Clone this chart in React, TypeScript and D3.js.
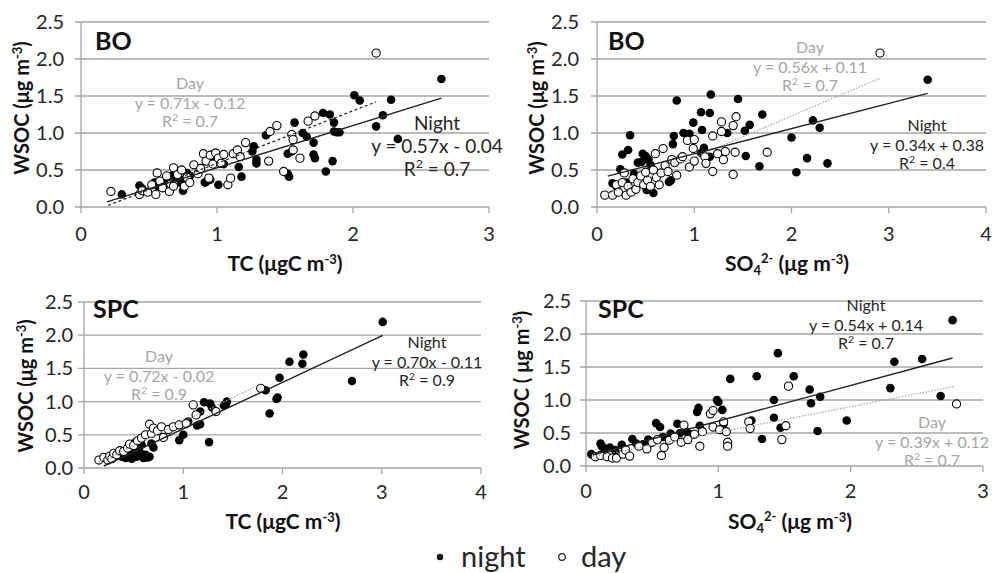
import React from "react";
import * as d3 from "d3";

// ---- data: [x, y] pairs ----
const boTcNight = [[0.30,0.17],[0.43,0.29],[0.45,0.25],[0.54,0.33],[0.57,0.27],[0.60,0.30],[0.64,0.36],[0.68,0.44],[0.70,0.40],[0.71,0.48],[0.73,0.37],[0.74,0.32],[0.75,0.22],[0.78,0.46],[0.80,0.42],[0.91,0.33],[0.92,0.34],[0.95,0.37],[0.97,0.68],[0.98,0.72],[1.01,0.30],[1.05,0.58],[1.16,0.54],[1.18,0.41],[1.26,0.75],[1.27,0.82],[1.29,0.59],[1.29,0.64],[1.36,0.97],[1.52,0.45],[1.53,0.41],[1.52,0.72],[1.55,0.75],[1.57,1.14],[1.63,1.00],[1.66,0.95],[1.71,0.87],[1.71,0.71],[1.72,0.66],[1.78,1.27],[1.80,0.48],[1.83,1.25],[1.86,1.14],[1.86,1.02],[1.85,0.62],[1.88,1.01],[1.90,1.01],[2.01,1.51],[2.05,1.44],[2.17,1.09],[2.22,1.24],[2.28,1.45],[2.33,0.92],[2.65,1.73]];
const boTcDay = [[0.22,0.21],[0.43,0.17],[0.45,0.22],[0.49,0.20],[0.52,0.30],[0.55,0.17],[0.56,0.46],[0.58,0.35],[0.60,0.26],[0.63,0.42],[0.65,0.21],[0.66,0.31],[0.68,0.53],[0.68,0.28],[0.71,0.44],[0.74,0.50],[0.76,0.28],[0.78,0.40],[0.80,0.33],[0.83,0.57],[0.86,0.45],[0.88,0.52],[0.90,0.72],[0.92,0.62],[0.94,0.39],[0.95,0.70],[0.97,0.58],[0.99,0.73],[1.01,0.66],[1.03,0.59],[1.05,0.71],[1.08,0.30],[1.10,0.39],[1.12,0.72],[1.15,0.77],[1.17,0.68],[1.21,0.87],[1.38,0.62],[1.39,1.02],[1.44,1.10],[1.49,0.48],[1.55,0.98],[1.56,0.91],[1.56,0.77],[1.61,0.66],[1.67,1.16],[1.72,1.23],[2.17,2.08]];
const boSo4Night = [[0.16,0.32],[0.20,0.28],[0.24,0.51],[0.26,0.71],[0.30,0.33],[0.32,0.77],[0.34,0.97],[0.38,0.45],[0.42,0.60],[0.46,0.61],[0.47,0.72],[0.50,0.69],[0.51,0.23],[0.53,0.64],[0.55,0.57],[0.58,0.19],[0.74,0.34],[0.76,0.36],[0.78,0.85],[0.79,0.96],[0.82,1.44],[0.89,1.00],[0.95,0.99],[0.99,1.14],[1.07,1.28],[1.08,1.04],[1.07,0.73],[1.10,0.80],[1.16,0.68],[1.16,1.27],[1.17,1.52],[1.34,1.00],[1.45,1.46],[1.52,1.03],[1.53,0.69],[1.57,1.11],[1.67,0.55],[1.70,1.25],[2.00,0.94],[2.05,0.47],[2.16,0.66],[2.22,1.17],[2.29,1.07],[2.37,0.59],[3.40,1.72]];
const boSo4Day = [[0.08,0.16],[0.16,0.16],[0.20,0.30],[0.22,0.20],[0.26,0.33],[0.28,0.46],[0.30,0.16],[0.32,0.28],[0.35,0.20],[0.37,0.38],[0.40,0.24],[0.42,0.33],[0.45,0.42],[0.48,0.30],[0.50,0.47],[0.52,0.36],[0.55,0.28],[0.58,0.50],[0.60,0.72],[0.61,0.40],[0.64,0.30],[0.66,0.46],[0.68,0.79],[0.70,0.56],[0.73,0.48],[0.77,0.64],[0.80,0.60],[0.82,0.43],[0.86,0.65],[0.88,0.68],[0.93,0.90],[0.95,0.54],[0.99,0.79],[1.00,0.91],[1.00,0.62],[1.11,0.68],[1.12,0.59],[1.19,0.48],[1.19,0.96],[1.24,0.72],[1.28,1.15],[1.28,1.02],[1.30,0.64],[1.32,0.75],[1.40,1.10],[1.43,1.22],[1.40,0.44],[1.42,0.74],[1.75,0.74],[2.91,2.08]];
const spcTcNight = [[0.38,0.17],[0.42,0.15],[0.46,0.18],[0.48,0.14],[0.50,0.22],[0.52,0.39],[0.53,0.17],[0.55,0.28],[0.57,0.22],[0.58,0.35],[0.60,0.15],[0.62,0.20],[0.64,0.16],[0.66,0.17],[0.68,0.37],[0.70,0.31],[0.96,0.42],[1.00,0.50],[1.05,0.70],[1.14,0.64],[1.17,0.66],[1.17,0.85],[1.21,0.99],[1.26,0.39],[1.27,0.97],[1.29,0.91],[1.41,0.94],[1.43,0.96],[1.44,1.00],[1.83,1.17],[1.87,0.82],[1.94,1.04],[1.95,1.06],[1.97,1.36],[2.07,1.60],[2.20,1.57],[2.21,1.71],[2.70,1.31],[3.01,2.20]];
const spcTcDay = [[0.15,0.12],[0.20,0.16],[0.24,0.12],[0.26,0.18],[0.28,0.14],[0.30,0.22],[0.33,0.20],[0.36,0.26],[0.40,0.25],[0.44,0.30],[0.46,0.36],[0.50,0.34],[0.54,0.41],[0.58,0.45],[0.62,0.50],[0.66,0.66],[0.68,0.52],[0.70,0.60],[0.74,0.56],[0.78,0.62],[0.80,0.46],[0.85,0.58],[0.90,0.62],[0.96,0.65],[1.03,0.67],[1.10,0.95],[1.13,0.80],[1.33,0.85],[1.78,1.20]];
const spcSo4Night = [[0.04,0.18],[0.11,0.34],[0.12,0.30],[0.14,0.26],[0.18,0.28],[0.22,0.24],[0.27,0.32],[0.35,0.41],[0.38,0.34],[0.43,0.33],[0.47,0.40],[0.53,0.65],[0.56,0.59],[0.58,0.44],[0.64,0.49],[0.69,0.64],[0.71,0.50],[0.76,0.52],[0.79,0.48],[0.84,0.82],[0.85,0.88],[0.86,0.61],[0.99,1.00],[1.00,0.97],[1.03,0.85],[1.04,0.64],[1.09,1.32],[1.25,0.69],[1.29,1.36],[1.33,0.41],[1.42,1.00],[1.42,0.73],[1.45,1.71],[1.47,0.58],[1.57,1.36],[1.69,1.16],[1.70,0.95],[1.75,0.53],[1.77,1.05],[1.97,0.69],[2.30,1.18],[2.33,1.58],[2.54,1.62],[2.68,1.06],[2.77,2.21]];
const spcSo4Day = [[0.07,0.14],[0.11,0.16],[0.16,0.14],[0.20,0.12],[0.23,0.12],[0.28,0.18],[0.30,0.24],[0.33,0.15],[0.40,0.30],[0.46,0.26],[0.50,0.36],[0.54,0.40],[0.57,0.16],[0.59,0.28],[0.63,0.39],[0.67,0.44],[0.72,0.36],[0.74,0.62],[0.77,0.40],[0.82,0.48],[0.86,0.30],[0.88,0.52],[0.94,0.79],[0.96,0.84],[0.96,0.59],[1.01,0.55],[1.04,0.67],[1.06,0.52],[1.07,0.36],[1.07,0.30],[1.23,0.67],[1.24,0.57],[1.48,0.40],[1.51,0.61],[1.53,1.21],[2.80,0.94]];

// fitted lines: [slope, intercept, xStart, xEnd]
const boTcNightFit = [0.57, -0.04, 0.19, 2.65];
const boTcDayFit = [0.71, -0.12, 0.2, 2.17];
const boSo4NightFit = [0.34, 0.38, 0.11, 3.4];
const boSo4DayFit = [0.56, 0.11, 0.08, 2.91];
const spcTcNightFit = [0.70, -0.11, 0.2, 3.01];
const spcTcDayFit = [0.72, -0.02, 0.15, 1.78];
const spcSo4NightFit = [0.54, 0.14, 0.05, 2.77];
const spcSo4DayFit = [0.39, 0.12, 0.05, 2.79];

const yTicks = [0, 0.5, 1, 1.5, 2, 2.5];

const FONT = "Lato, 'Open Sans', sans-serif";
const GRID = "#a6a6a6";
const DAYTXT = "#a6a6a6";
const TXT = "#262626";

// superscript followed by the rest of the string, back on the baseline
const supThen = (s, rest, size, up = 7) => [
  <tspan key="s1" dy={-up} fontSize={size}>{s}</tspan>,
  <tspan key="s2" dy={up}>{rest}</tspan>,
];

function Eq({ x, y, color, size, lines }) {
  return (
    <g fill={color} fontFamily={FONT} fontSize={size} textAnchor="middle">
      <text x={x} y={y}>{lines[0]}</text>
      <text x={x} y={y + size * 1.22}>{lines[1]}</text>
      <text x={x} y={y + size * 2.4}>R{supThen("2", " = " + lines[2], size * 0.65, size * 0.4)}</text>
    </g>
  );
}

function Panel({ p }) {
  const x = d3.scaleLinear().domain([0, p.xMax]).range([p.left, p.right]);
  const y = d3.scaleLinear().domain([0, 2.5]).range([p.bottom, p.top]);
  const xTicks = d3.range(0, p.xMax + 1);
  const fitLine = (f) => {
    const [m, b, x0, x1] = f;
    return d3.line()([[x(x0), y(m * x0 + b)], [x(x1), y(m * x1 + b)]]);
  };
  return (
    <g fontFamily={FONT}>
      {yTicks.map((t) => (
        <g key={t}>
          <line x1={p.left - 6} x2={p.right} y1={y(t)} y2={y(t)} stroke={GRID} strokeWidth={1.3} />
          <text x={p.yLabelX} y={y(t) + 7} textAnchor="end" fontSize={20} fill={TXT}>{d3.format(".1f")(t)}</text>
        </g>
      ))}
      <line x1={p.left} x2={p.left} y1={p.top} y2={p.bottom} stroke={GRID} strokeWidth={1.3} />
      {xTicks.map((t) => (
        <g key={t}>
          <line x1={x(t)} x2={x(t)} y1={p.bottom} y2={p.bottom + 6} stroke={GRID} strokeWidth={1.3} />
          <text x={x(t)} y={p.xLabelY} textAnchor="middle" fontSize={20} fill={TXT}>{t}</text>
        </g>
      ))}
      {p.night.map((d, i) => (
        <circle key={"n" + i} cx={x(d[0])} cy={y(d[1])} r={4.3} fill="#000" />
      ))}
      {p.day.map((d, i) => (
        <circle key={"d" + i} cx={x(d[0])} cy={y(d[1])} r={4.1} fill="#fff" stroke="#000" strokeWidth={1.1} />
      ))}
      <path d={fitLine(p.dayFit)} stroke={p.dayLineColor} strokeWidth={1.2} strokeDasharray={p.dayDash} fill="none" />
      <path d={fitLine(p.nightFit)} stroke="#222" strokeWidth={1.4} fill="none" />
      <text x={p.nameX} y={p.nameY} fontSize={25} fontWeight="bold" fill="#111">{p.name}</text>
      <text transform={`translate(${p.yTitleX},${p.yTitleY}) rotate(-90)`} textAnchor="middle" fontSize={20} fontWeight="bold" fill="#111">
        {p.yTitle}{supThen("-3", ")", 13)}
      </text>
      <text x={p.xTitleX} y={p.xTitleY} textAnchor="middle" fontSize={21} fontWeight="bold" fill="#111">
        {p.so4 ? (
          <>
            SO<tspan dy={4} fontSize={13}>4</tspan><tspan dy={-12} fontSize={13}>2-</tspan><tspan dy={8}> (μg m</tspan>
          </>
        ) : (
          "TC (μgC m"
        )}
        {supThen("-3", ")", 13)}
      </text>
      <Eq {...p.dayEq} color={DAYTXT} />
      <Eq {...p.nightEq} color={TXT} />
    </g>
  );
}

const panels = [
  {
    left: 81, right: 489, top: 22, bottom: 207, xMax: 3, yLabelX: 64, xLabelY: 241,
    night: boTcNight, day: boTcDay, nightFit: boTcNightFit, dayFit: boTcDayFit,
    dayLineColor: "#222", dayDash: "3,2.5",
    name: "BO", nameX: 95, nameY: 50,
    yTitle: "WSOC (μg m", yTitleX: 29, yTitleY: 108,
    xTitleX: 285, xTitleY: 271, so4: false,
    dayEq: { x: 190, y: 89, size: 16, lines: ["Day", "y = 0.71x - 0.12", "0.7"] },
    nightEq: { x: 437, y: 130, size: 19, lines: ["Night", "y = 0.57x - 0.04", "0.7"] },
  },
  {
    left: 597, right: 986, top: 22, bottom: 207, xMax: 4, yLabelX: 579, xLabelY: 241,
    night: boSo4Night, day: boSo4Day, nightFit: boSo4NightFit, dayFit: boSo4DayFit,
    dayLineColor: "#a6a6a6", dayDash: "1.5,1.5",
    name: "BO", nameX: 608, nameY: 50,
    yTitle: "WSOC (μg m", yTitleX: 544, yTitleY: 108,
    xTitleX: 787, xTitleY: 271, so4: true,
    dayEq: { x: 810, y: 53, size: 16, lines: ["Day", "y = 0.56x + 0.11", "0.7"] },
    nightEq: { x: 927, y: 131, size: 16, lines: ["Night", "y = 0.34x + 0.38", "0.4"] },
  },
  {
    left: 84, right: 481, top: 302, bottom: 468, xMax: 4, yLabelX: 73, xLabelY: 499,
    night: spcTcNight, day: spcTcDay, nightFit: spcTcNightFit, dayFit: spcTcDayFit,
    dayLineColor: "#a6a6a6", dayDash: "1.5,1.5",
    name: "SPC", nameX: 93, nameY: 318,
    yTitle: "WSOC (μg m", yTitleX: 33, yTitleY: 386,
    xTitleX: 283, xTitleY: 529, so4: false,
    dayEq: { x: 159, y: 362, size: 16, lines: ["Day", "y = 0.72x - 0.02", "0.9"] },
    nightEq: { x: 427, y: 348, size: 16, lines: ["Night", "y = 0.70x - 0.11", "0.9"] },
  },
  {
    left: 586, right: 983, top: 301, bottom: 466, xMax: 3, yLabelX: 571, xLabelY: 498,
    night: spcSo4Night, day: spcSo4Day, nightFit: spcSo4NightFit, dayFit: spcSo4DayFit,
    dayLineColor: "#a6a6a6", dayDash: "1.5,1.5",
    name: "SPC", nameX: 598, nameY: 318,
    yTitle: "WSOC ( μg m", yTitleX: 529, yTitleY: 380,
    xTitleX: 790, xTitleY: 529, so4: true,
    dayEq: { x: 932, y: 428, size: 16, lines: ["Day", "y = 0.39x + 0.12", "0.7"] },
    nightEq: { x: 866, y: 311, size: 16, lines: ["Night", "y = 0.54x + 0.14", "0.7"] },
  },
];

export default function App() {
  return (
    <svg width={992} height={573} style={{ position: "absolute", left: 0, top: 0, background: "#fff" }}>
      {panels.map((p, i) => (
        <Panel key={i} p={p} />
      ))}
      <g fontFamily={FONT} fontSize={29} fill={TXT}>
        <circle cx={440} cy={557} r={3.2} fill="#111" />
        <text x={461} y={567}>night</text>
        <circle cx={562} cy={557} r={3.3} fill="#fff" stroke="#222" strokeWidth={1.2} />
        <text x={581} y={567}>day</text>
      </g>
    </svg>
  );
}
